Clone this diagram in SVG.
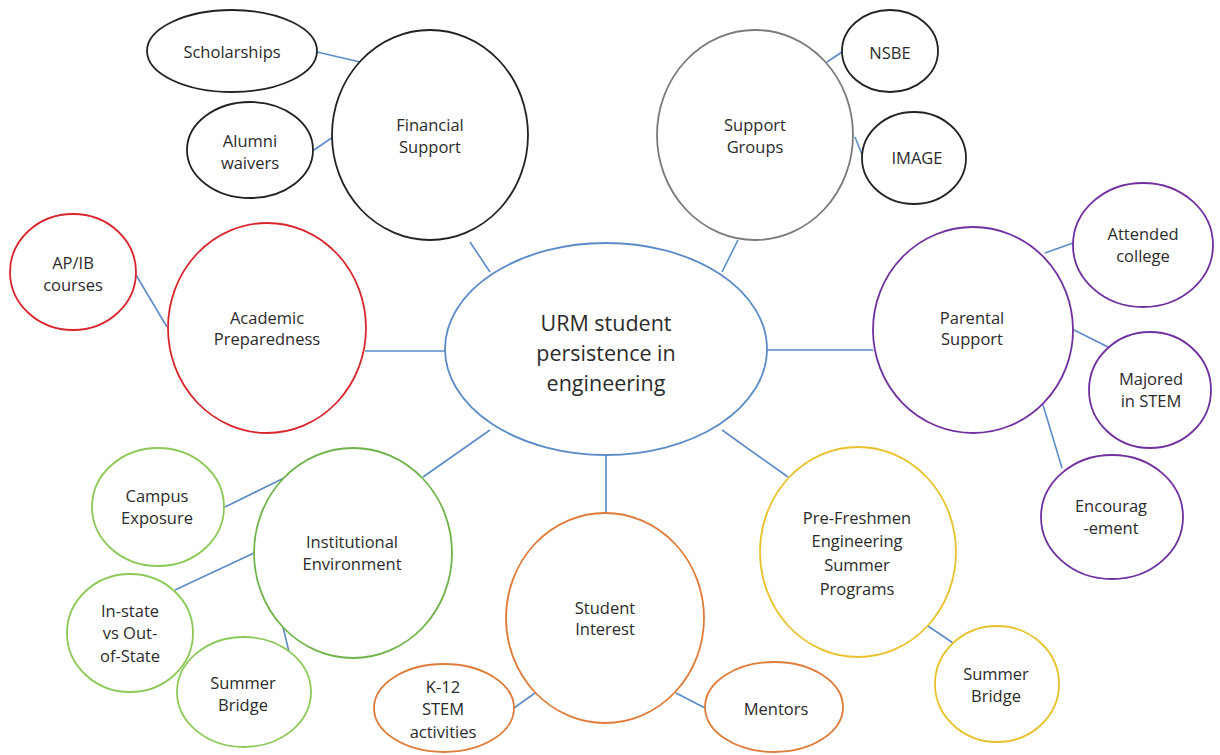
<svg xmlns="http://www.w3.org/2000/svg" width="1220" height="755" viewBox="0 0 1220 755">
<style>
  .n { fill: #ffffff; stroke-width: 1.8; }
  .c { stroke: #5b8bc8; stroke-width: 1.6; fill: none; }
  text { font-family: "Open Sans", "Liberation Sans", sans-serif; font-size: 16.5px; fill: #2b2b2b; text-anchor: middle; dominant-baseline: central; }
  .big { font-size: 21.5px; }
  .blk { stroke: #222222; }
  .gry { stroke: #7a7a7a; }
  .pur { stroke: #7030a0; }
  .red { stroke: #d9262c; }
  .grn { stroke: #6fb24a; }
  .lgr { stroke: #8cc957; }
  .org { stroke: #e07b39; }
  .yel { stroke: #e8c22c; }
  .blu { stroke: #5b8bc8; }
</style>
<rect width="1220" height="755" fill="#ffffff"/>
<g id="connectors">
  <line class="c" x1="317" y1="52" x2="360" y2="62"/>
  <line class="c" x1="314" y1="150" x2="333" y2="137"/>
  <line class="c" x1="470" y1="242" x2="490" y2="272"/>
  <line class="c" x1="738" y1="240" x2="722" y2="272"/>
  <line class="c" x1="827" y1="62" x2="842" y2="52"/>
  <line class="c" x1="855" y1="137" x2="863" y2="157"/>
  <line class="c" x1="767" y1="350" x2="873" y2="350"/>
  <line class="c" x1="1045" y1="253" x2="1073" y2="243"/>
  <line class="c" x1="1072" y1="329" x2="1108" y2="347"/>
  <line class="c" x1="1043" y1="405" x2="1062" y2="468"/>
  <line class="c" x1="136" y1="275" x2="167" y2="327"/>
  <line class="c" x1="365" y1="351" x2="445" y2="351"/>
  <line class="c" x1="225" y1="507" x2="284" y2="478"/>
  <line class="c" x1="175" y1="590" x2="254" y2="553"/>
  <line class="c" x1="289" y1="652" x2="283" y2="627"/>
  <line class="c" x1="423" y1="477" x2="490" y2="430"/>
  <line class="c" x1="606" y1="455" x2="606" y2="513"/>
  <line class="c" x1="514" y1="708" x2="535" y2="693"/>
  <line class="c" x1="676" y1="693" x2="705" y2="708"/>
  <line class="c" x1="722" y1="430" x2="788" y2="477"/>
  <line class="c" x1="928" y1="626" x2="953" y2="643"/>
</g>
<g id="center">
  <ellipse class="n blu" cx="606" cy="349" rx="161" ry="106"/>
  <text class="big" x="606" y="322">URM student</text>
  <text class="big" x="606" y="352">persistence in</text>
  <text class="big" x="606" y="382">engineering</text>
</g>
<g id="financial-support">
  <ellipse class="n blk" cx="430" cy="135" rx="98" ry="105"/>
  <text x="430" y="124">Financial</text>
  <text x="430" y="146">Support</text>
</g>
<g id="scholarships">
  <ellipse class="n blk" cx="232" cy="51" rx="85" ry="41"/>
  <text x="232" y="51">Scholarships</text>
</g>
<g id="alumni-waivers">
  <ellipse class="n blk" cx="250" cy="150" rx="63" ry="48"/>
  <text x="250" y="140">Alumni</text>
  <text x="250" y="162">waivers</text>
</g>
<g id="support-groups">
  <ellipse class="n gry" cx="755" cy="135" rx="98" ry="105"/>
  <text x="755" y="124">Support</text>
  <text x="755" y="146">Groups</text>
</g>
<g id="nsbe">
  <ellipse class="n blk" cx="890" cy="51" rx="48" ry="41"/>
  <text x="890" y="52">NSBE</text>
</g>
<g id="image">
  <ellipse class="n blk" cx="914" cy="158" rx="52" ry="46"/>
  <text x="917" y="157">IMAGE</text>
</g>
<g id="parental-support">
  <ellipse class="n pur" cx="973" cy="330" rx="100" ry="103"/>
  <text x="972" y="317">Parental</text>
  <text x="972" y="338">Support</text>
</g>
<g id="attended-college">
  <ellipse class="n pur" cx="1143" cy="245" rx="70" ry="62"/>
  <text x="1143" y="233">Attended</text>
  <text x="1143" y="255">college</text>
</g>
<g id="majored-stem">
  <ellipse class="n pur" cx="1150" cy="390" rx="61" ry="58"/>
  <text x="1151" y="378">Majored</text>
  <text x="1151" y="400">in STEM</text>
</g>
<g id="encouragement">
  <ellipse class="n pur" cx="1112" cy="517" rx="71" ry="62"/>
  <text x="1111" y="505">Encourag</text>
  <text x="1111" y="527">-ement</text>
</g>
<g id="academic-preparedness">
  <ellipse class="n red" cx="267" cy="328" rx="99" ry="105"/>
  <text x="267" y="317">Academic</text>
  <text x="267" y="338">Preparedness</text>
</g>
<g id="apib">
  <ellipse class="n red" cx="73" cy="272" rx="63" ry="58"/>
  <text x="73" y="262">AP/IB</text>
  <text x="73" y="284">courses</text>
</g>
<g id="institutional-environment">
  <ellipse class="n grn" cx="353" cy="553" rx="99" ry="105"/>
  <text x="352" y="541">Institutional</text>
  <text x="352" y="563">Environment</text>
</g>
<g id="campus-exposure">
  <ellipse class="n lgr" cx="158" cy="507" rx="66" ry="59"/>
  <text x="157" y="495">Campus</text>
  <text x="157" y="517">Exposure</text>
</g>
<g id="instate">
  <ellipse class="n lgr" cx="130" cy="633" rx="63" ry="59"/>
  <text x="130" y="610">In-state</text>
  <text x="130" y="632">vs Out-</text>
  <text x="130" y="655">of-State</text>
</g>
<g id="summer-bridge-green">
  <ellipse class="n lgr" cx="244" cy="692" rx="67" ry="55"/>
  <text x="243" y="682">Summer</text>
  <text x="243" y="704">Bridge</text>
</g>
<g id="student-interest">
  <ellipse class="n org" cx="605" cy="618" rx="99" ry="105"/>
  <text x="605" y="607">Student</text>
  <text x="605" y="628">Interest</text>
</g>
<g id="k12">
  <ellipse class="n org" cx="444" cy="708" rx="70" ry="44"/>
  <text x="443" y="686">K-12</text>
  <text x="443" y="708">STEM</text>
  <text x="443" y="731">activities</text>
</g>
<g id="mentors">
  <ellipse class="n org" cx="774" cy="707" rx="69" ry="45"/>
  <text x="776" y="708">Mentors</text>
</g>
<g id="pre-freshmen">
  <ellipse class="n yel" cx="858" cy="552" rx="98" ry="105"/>
  <text x="857" y="517">Pre-Freshmen</text>
  <text x="857" y="540">Engineering</text>
  <text x="857" y="564">Summer</text>
  <text x="857" y="588">Programs</text>
</g>
<g id="summer-bridge-yellow">
  <ellipse class="n yel" cx="997" cy="684" rx="62" ry="58"/>
  <text x="996" y="673">Summer</text>
  <text x="996" y="695">Bridge</text>
</g>
</svg>
